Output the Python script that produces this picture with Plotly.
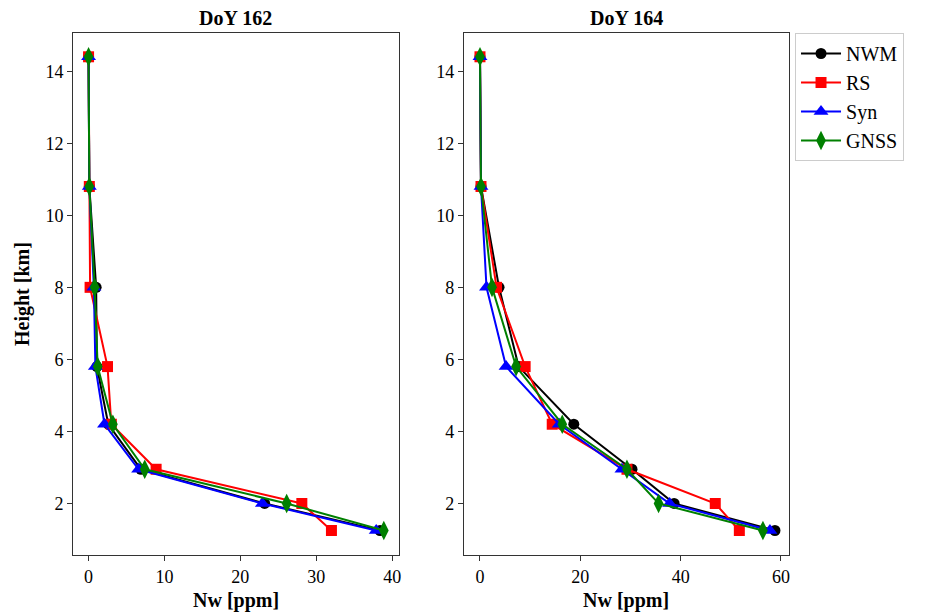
import plotly.graph_objects as go
from plotly.subplots import make_subplots

# Profile heights (km)
heights = [14.4, 10.8, 8.0, 5.8, 4.2, 2.95, 2.0, 1.25]

# DoY 162 wet refractivity profiles (ppm)
nwm_162 = [0.0, 0.1, 1.0, 1.1, 2.6, 6.9, 23.2, 38.4]
rs_162 = [0.0, 0.1, 0.2, 2.5, 3.0, 8.9, 28.1, 32.0]
syn_162 = [0.0, 0.1, 0.7, 0.9, 2.1, 6.6, 22.9, 37.9]
gnss_162 = [0.0, 0.1, 0.8, 1.2, 3.2, 7.4, 26.1, 38.9]

# DoY 164 wet refractivity profiles (ppm)
nwm_164 = [0.0, 0.2, 3.8, 7.7, 18.7, 30.3, 38.7, 58.8]
rs_164 = [0.0, 0.2, 3.3, 9.0, 14.4, 29.3, 46.9, 51.7]
syn_164 = [0.0, 0.2, 1.3, 5.2, 15.8, 28.3, 37.8, 57.8]
gnss_164 = [0.0, 0.2, 2.4, 7.2, 16.4, 29.3, 35.6, 56.4]

panel_titles = ["DoY 162", "DoY 164"]
series_names = ["NWM", "RS", "Syn", "GNSS"]
colors = ["black", "red", "blue", "green"]
symbols = ["circle", "square", "triangle-up", "diamond-tall"]
sizes = [11, 11, 13, 14]

FONT = "Liberation Serif, Times New Roman, serif"
X_DOMAINS = [[0.0, 0.4553], [0.546, 1.0]]

fig = make_subplots(rows=1, cols=2, horizontal_spacing=0.09)

panels = [
    [nwm_162, rs_162, syn_162, gnss_162],
    [nwm_164, rs_164, syn_164, gnss_164],
]

for col, data in enumerate(panels, start=1):
    for i, xs in enumerate(data):
        fig.add_trace(
            go.Scatter(
                x=xs, y=heights, mode="lines+markers",
                name=series_names[i],
                legendgroup=series_names[i],
                showlegend=(col == 2),
                line=dict(color=colors[i], width=2),
                marker=dict(symbol=symbols[i], size=sizes[i], color=colors[i],
                            line=dict(width=0)),
            ),
            row=1, col=col,
        )

axis_common = dict(
    showgrid=False, zeroline=False, showline=True, mirror=True,
    linecolor="#333333", linewidth=1, ticks="outside", ticklen=5,
    tickcolor="#333333", tickfont=dict(family=FONT, size=18, color="black"),
    automargin=False,
)

fig.update_xaxes(**axis_common)
fig.update_yaxes(**axis_common)

fig.update_xaxes(range=[-2.05, 40.9], tickvals=[0, 10, 20, 30, 40],
                 domain=X_DOMAINS[0], row=1, col=1)
fig.update_xaxes(range=[-3.2, 61.6], tickvals=[0, 20, 40, 60],
                 domain=X_DOMAINS[1], row=1, col=2)
fig.update_yaxes(range=[0.57, 15.06], tickvals=[2, 4, 6, 8, 10, 12, 14])

# Panel titles and axis labels
for title, dom in zip(panel_titles, X_DOMAINS):
    cx = (dom[0] + dom[1]) / 2
    fig.add_annotation(text="<b>" + title + "</b>", x=cx, y=1.0287,
                       xref="paper", yref="paper", showarrow=False,
                       xanchor="center", yanchor="middle",
                       font=dict(family=FONT, size=20, color="black"))
    fig.add_annotation(text="<b>Nw [ppm]</b>", x=cx, y=-0.088,
                       xref="paper", yref="paper", showarrow=False,
                       xanchor="center", yanchor="middle",
                       font=dict(family=FONT, size=20, color="black"))

fig.add_annotation(text="<b>Height [km]</b>", x=-0.0712, y=0.5,
                   xref="paper", yref="paper", showarrow=False, textangle=-90,
                   xanchor="center", yanchor="middle",
                   font=dict(family=FONT, size=20, color="black"))

fig.update_layout(
    width=926, height=615,
    margin=dict(l=73, r=137, t=33, b=60),
    paper_bgcolor="white", plot_bgcolor="white",
    font=dict(family=FONT, color="black"),
    legend=dict(
        x=1.0084, y=1.0, xanchor="left", yanchor="top",
        font=dict(family=FONT, size=20, color="black"),
        bordercolor="#cccccc", borderwidth=1, bgcolor="white",
        itemwidth=40, tracegroupgap=0,
    ),
)

fig.write_html("out.html")
